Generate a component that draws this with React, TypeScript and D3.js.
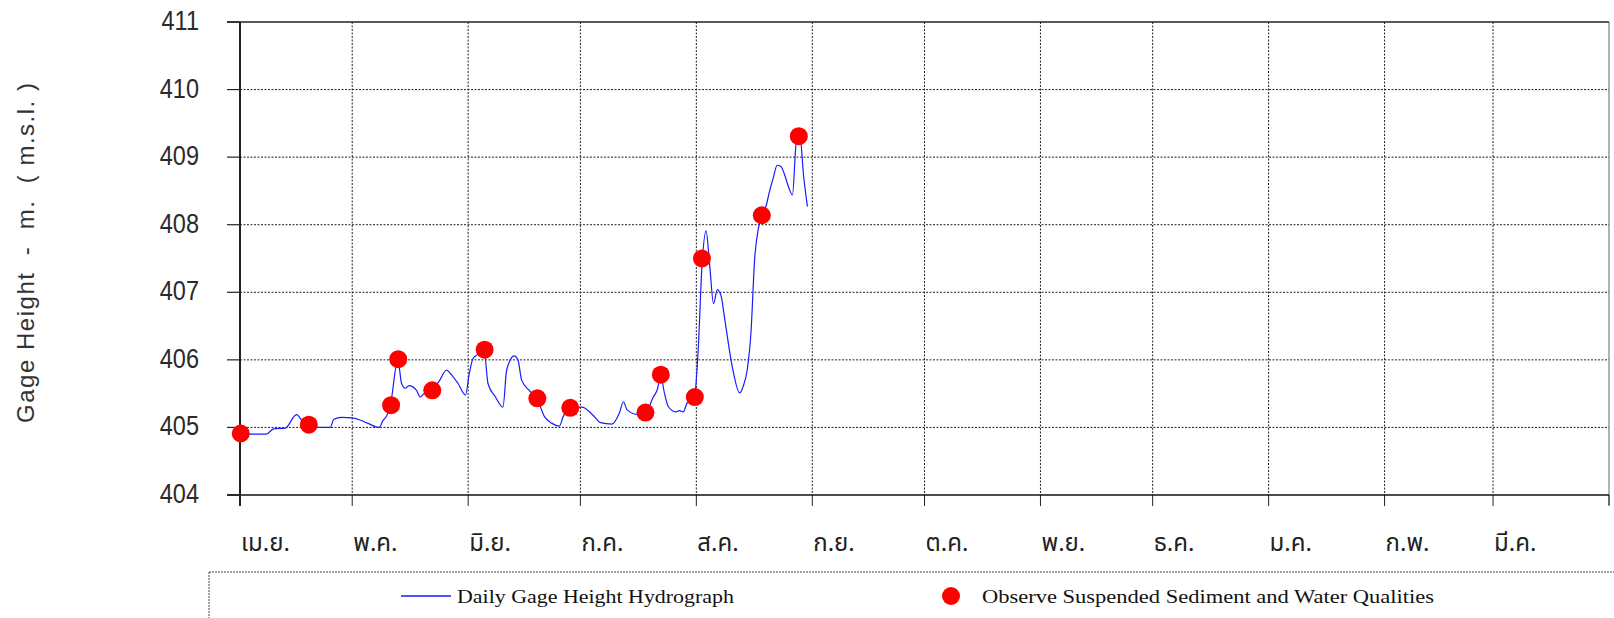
import React from "react";
import * as d3 from "d3";

// Month labels (Thai water year, April start, leap year) and their day offsets from 1 April
const monthLabels = ["เม.ย.", "พ.ค.", "มิ.ย.", "ก.ค.", "ส.ค.", "ก.ย.", "ต.ค.", "พ.ย.", "ธ.ค.", "ม.ค.", "ก.พ.", "มี.ค."];
const monthStartDays = [0, 30, 61, 91, 122, 153, 183, 214, 244, 275, 306, 335, 366];
const yTicks = [404, 405, 406, 407, 408, 409, 410, 411];

// Daily gage height hydrograph (day offset from 1 April, m.s.l.)
const gageDays = [
  0, 3, 7, 9, 12.1, 15.1, 17.1, 18.1, 21.1, 24.1, 25.1, 27.1, 30.1, 32.1, 34.2, 37.2, 38.2, 39.2, 40.2, 42.2,
  43.2, 44.2, 45.2, 47.2, 48.2, 49.2, 51.2, 53.2, 55.2, 56.2, 58.3, 60.3, 61.3, 62.3, 63.3, 65.3, 66.3, 68.3, 70.3, 71.3,
  73.3, 74.3, 75.3, 77.3, 79.4, 81.4, 83.4, 85.4, 86.4, 88.4, 91.4, 94.4, 96.4, 99.4, 101.4, 102.5, 103.5, 106.5, 108.5, 110.5,
  111.5, 112.5, 113.5, 114.5, 116.5, 117.5, 118.5, 119.5, 121.5, 122.5, 123.5, 124.6, 125.6, 126.6, 127.6, 128.6, 129.6, 131.6, 133.6, 134.6,
  135.6, 136.6, 137.6, 138.6, 139.6, 140.6, 141.6, 142.6, 143.6, 144.6, 145.6, 146.7, 147.7, 148.7, 149.7, 150.7, 151.7,
];
const gageValues = [
  404.91, 404.9, 404.9, 404.98, 404.99, 405.19, 405.06, 405.03, 405.0, 405.0, 405.12, 405.15, 405.14, 405.11, 405.06, 405.0, 405.1, 405.17, 405.33, 406.0,
  405.65, 405.58, 405.62, 405.55, 405.45, 405.5, 405.55, 405.68, 405.85, 405.8, 405.65, 405.48, 405.8, 406.02, 406.07, 406.12, 405.65, 405.45, 405.3, 405.85,
  406.06, 406.0, 405.7, 405.55, 405.43, 405.16, 405.06, 405.02, 405.16, 405.29, 405.3, 405.18, 405.07, 405.05, 405.21, 405.38, 405.26, 405.19, 405.22, 405.45,
  405.55, 405.75, 405.5, 405.31, 405.23, 405.25, 405.23, 405.36, 405.45, 406.15, 407.38, 407.91, 407.38, 406.83, 407.04, 406.95, 406.6, 405.9, 405.51, 405.62,
  405.85, 406.4, 407.5, 407.95, 408.14, 408.27, 408.5, 408.7, 408.88, 408.86, 408.74, 408.55, 408.44, 409.2, 409.3, 408.71, 408.27,
];

// Observed suspended sediment & water quality sampling
const sampleDays = [0.2, 18.4, 40.4, 42.3, 51.4, 65.4, 79.5, 88.3, 108.4, 112.5, 121.6, 123.5, 139.5, 149.4];
const sampleValues = [404.91, 405.04, 405.33, 406.01, 405.55, 406.15, 405.43, 405.29, 405.22, 405.78, 405.45, 407.5, 408.14, 409.31];

const W = 1614;
const H = 618;

export default function App() {
  const x = d3.scaleLinear().domain([0, 366]).range([240, 1609]);
  const y = d3.scaleLinear().domain([404, 411]).range([495, 22]);

  const pts = gageDays.map((d, i) => [d, gageValues[i]] as [number, number]);
  const line = d3
    .line<[number, number]>()
    .x((d) => x(d[0]))
    .y((d) => y(d[1]))
    .curve(d3.curveMonotoneX)(pts) || "";

  const x0 = x(0);
  const x1 = x(366);

  return (
    <svg width={W} height={H} style={{ position: "absolute", left: 0, top: 0, background: "#fff" }}>
      {/* horizontal grid */}
      {yTicks.slice(1, -1).map((t) => (
        <line key={"hg" + t} x1={x0} x2={x1} y1={y(t)} y2={y(t)} stroke="#222" strokeWidth={1} strokeDasharray="2,1.5" />
      ))}
      {/* vertical grid */}
      {monthStartDays.slice(1, -1).map((d) => (
        <line key={"vg" + d} x1={x(d)} x2={x(d)} y1={y(411)} y2={y(404)} stroke="#222" strokeWidth={1} strokeDasharray="2,1.5" />
      ))}
      {/* right border */}
      <line x1={x1} x2={x1} y1={y(411)} y2={y(404) + 10} stroke="#666" strokeWidth={1} />
      {/* top line */}
      <line x1={227} x2={x1} y1={y(411)} y2={y(411)} stroke="#222" strokeWidth={1.3} />
      {/* y ticks */}
      {yTicks.map((t) => (
        <line key={"yt" + t} x1={227} x2={x0} y1={y(t)} y2={y(t)} stroke="#222" strokeWidth={1.2} />
      ))}
      {/* x ticks */}
      {monthStartDays.map((d) => (
        <line key={"xt" + d} x1={x(d)} x2={x(d)} y1={y(404)} y2={y(404) + 11} stroke="#222" strokeWidth={1} />
      ))}
      {/* axes */}
      <line x1={227} x2={x1} y1={y(404)} y2={y(404)} stroke="#111" strokeWidth={1.6} />
      <line x1={x0} x2={x0} y1={y(411)} y2={y(404) + 11} stroke="#222" strokeWidth={2} />

      {/* y tick labels */}
      {yTicks.map((t) => (
        <text
          key={"yl" + t}
          transform={`translate(199,${y(t) + 8}) scale(0.84,1)`}
          textAnchor="end"
          fontFamily="'Liberation Sans', Arial, sans-serif"
          fontSize={28}
          fill="#2a2a2a"
        >
          {t}
        </text>
      ))}

      {/* x tick labels */}
      {monthLabels.map((m, i) => (
        <text
          key={"xl" + i}
          x={x(monthStartDays[i]) + 1}
          y={551}
          fontFamily="'Noto Sans Thai', 'Noto Sans', 'DejaVu Sans', sans-serif"
          fontSize={24}
          fill="#222"
        >
          {m}
        </text>
      ))}

      {/* y axis title */}
      <text
        transform="translate(34,253) rotate(-90)"
        textAnchor="middle"
        fontFamily="'Liberation Sans', Arial, sans-serif"
        fontSize={24}
        fill="#333"
        textLength={340}
        lengthAdjust="spacing"
        style={{ whiteSpace: "pre" }}
      >
        {"Gage Height  -  m.  ( m.s.l. )"}
      </text>

      {/* hydrograph */}
      <path d={line} fill="none" stroke="#1a1aff" strokeWidth={1.2} />

      {/* sample dots */}
      {sampleDays.map((d, i) => (
        <circle key={"s" + i} cx={x(d)} cy={y(sampleValues[i])} r={9} fill="#ff0000" />
      ))}

      {/* legend box */}
      <line x1={209} x2={W} y1={572} y2={572} stroke="#444" strokeWidth={1} strokeDasharray="2,1" />
      <line x1={209} x2={209} y1={572} y2={H} stroke="#444" strokeWidth={1} strokeDasharray="2,1" />
      <line x1={401} x2={451} y1={596} y2={596} stroke="#1a1aff" strokeWidth={1.5} />
      <text x={457} y={603} fontFamily="'Liberation Serif', 'Times New Roman', serif" fontSize={19} fill="#111" textLength={277} lengthAdjust="spacingAndGlyphs">
        Daily Gage Height Hydrograph
      </text>
      <circle cx={951} cy={596} r={9} fill="#ff0000" />
      <text x={982} y={603} fontFamily="'Liberation Serif', 'Times New Roman', serif" fontSize={19} fill="#111" textLength={452} lengthAdjust="spacingAndGlyphs">
        Observe Suspended Sediment and Water Qualities
      </text>
    </svg>
  );
}
